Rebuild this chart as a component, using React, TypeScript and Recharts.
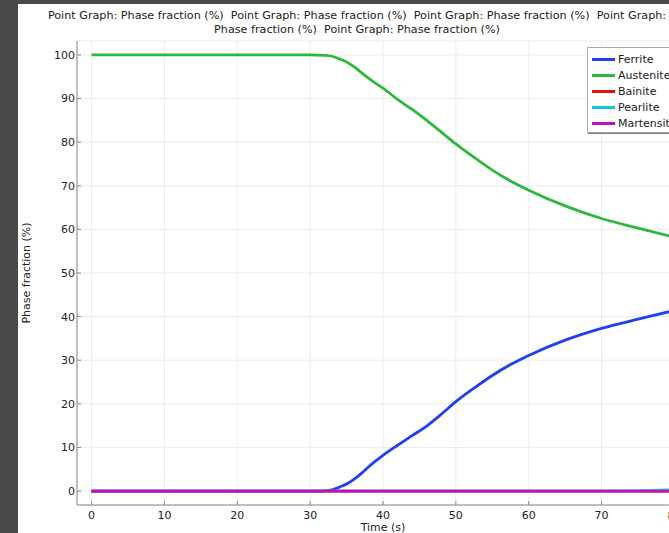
import React from 'react';
import { LineChart, Line, XAxis, YAxis, CartesianGrid, Legend } from 'recharts';

const FONT = '"DejaVu Sans", Verdana, sans-serif';

const time = [0, 10, 20, 30, 32, 33, 34, 35, 36, 37, 38, 39, 40, 42, 44, 46, 48, 50, 52.5, 55, 57.5, 60, 65, 70, 75, 80];
const ferrite = [0, 0, 0, 0, 0.05, 0.3, 0.9, 1.6, 2.7, 4.0, 5.5, 6.9, 8.2, 10.5, 12.7, 14.9, 17.6, 20.5, 23.6, 26.5, 29.0, 31.1, 34.6, 37.3, 39.4, 41.4];
const austenite = [100, 100, 100, 100, 99.9, 99.7, 99.1, 98.4, 97.3, 96.0, 94.7, 93.5, 92.4, 89.8, 87.5, 85.0, 82.3, 79.6, 76.5, 73.6, 71.1, 69.0, 65.4, 62.5, 60.3, 58.2];
const bainite = [0, 0, 0, 0, 0, 0, 0, 0, 0, 0, 0, 0, 0, 0, 0, 0, 0, 0, 0, 0, 0, 0, 0, 0, 0, 0];
const pearlite = [0, 0, 0, 0, 0, 0, 0, 0, 0, 0, 0, 0, 0, 0, 0, 0, 0, 0, 0, 0, 0, 0, 0, 0, 0.05, 0.3];
const martensite = [0, 0, 0, 0, 0, 0, 0, 0, 0, 0, 0, 0, 0, 0, 0, 0, 0, 0, 0, 0, 0, 0, 0, 0, 0, 0];

const seriesNames = ['Ferrite', 'Austenite', 'Bainite', 'Pearlite', 'Martensite'];
const seriesColors = ['#1f3ff0', '#2db83d', '#e01010', '#10c8d0', '#c010c0'];
const seriesValues = [ferrite, austenite, bainite, pearlite, martensite];

const xTicks = [0, 10, 20, 30, 40, 50, 60, 70, 80];
const yTicks = [0, 10, 20, 30, 40, 50, 60, 70, 80, 90, 100];

const titleLines = [
  'Point Graph: Phase fraction (%)  Point Graph: Phase fraction (%)  Point Graph: Phase fraction (%)  Point Graph:',
  'Phase fraction (%)  Point Graph: Phase fraction (%)',
];
const xLabel = 'Time (s)';
const yLabel = 'Phase fraction (%)';

const data = time.map((t, i) => {
  const row: Record<string, number> = { t };
  seriesNames.forEach((n, k) => {
    row[n] = seriesValues[k][i];
  });
  return row;
});

const axisColor = '#8a8a8a';
const tickStyle = { fontSize: 11, fill: '#222', fontFamily: FONT };

const EmptyTick = () => <g />;

const LegendBox = (props: any) => {
  const payload = [...(props.payload || [])].sort(
    (a: any, b: any) => seriesNames.indexOf(a.value) - seriesNames.indexOf(b.value)
  );
  return (
    <div
      style={{
        background: '#fff',
        border: '1px solid #a8a8a8',
        boxShadow: '1px 1px 0 #7a7a7a',
        padding: '3px 4px 1px 4px',
        fontFamily: FONT,
        fontSize: 11,
        color: '#222',
        whiteSpace: 'nowrap',
      }}
    >
      {payload.map((p: any) => (
        <div key={p.value} style={{ display: 'flex', alignItems: 'center', height: 16 }}>
          <span style={{ display: 'inline-block', width: 23, height: 3, background: p.color, marginRight: 3 }} />
          <span>{p.value}</span>
        </div>
      ))}
    </div>
  );
};

const YLabel = (props: any) => {
  const vb = props.viewBox || { x: 0, y: 0, width: 0, height: 0 };
  const cx = 12;
  const cy = vb.y + vb.height / 2;
  return (
    <text
      x={cx}
      y={cy}
      transform={`rotate(-90, ${cx}, ${cy})`}
      textAnchor="middle"
      fontSize={11}
      fontFamily={FONT}
      fill="#222"
    >
      {yLabel}
    </text>
  );
};

export default function App() {
  return (
    <div
      style={{
        position: 'fixed',
        left: 0,
        top: 0,
        width: 669,
        height: 533,
        overflow: 'hidden',
        background: '#47494b',
      }}
    >
      <div style={{ position: 'absolute', left: 18, top: 4, width: 678, height: 529, background: '#fff' }}>
        <LineChart
          width={678}
          height={529}
          data={data}
          margin={{ top: 37, right: 7, bottom: 0, left: 0 }}
          style={{ position: 'absolute', left: 0, top: 0 }}
        >
          <CartesianGrid stroke="#ebebeb" strokeWidth={1} />
          <XAxis
            dataKey="t"
            type="number"
            domain={[-2, 82]}
            ticks={xTicks}
            height={28}
            tickSize={-4}
            tickMargin={10}
            tick={tickStyle}
            axisLine={{ stroke: axisColor }}
            tickLine={{ stroke: axisColor }}
            label={{ value: xLabel, position: 'insideBottom', offset: 2, fontSize: 11, fontFamily: FONT, fill: '#222' }}
          />
          <XAxis
            xAxisId="top"
            orientation="top"
            dataKey="t"
            type="number"
            domain={[-2, 82]}
            ticks={xTicks}
            height={0}
            tickSize={-4}
            tick={EmptyTick}
            axisLine={{ stroke: axisColor }}
            tickLine={{ stroke: axisColor }}
          />
          <YAxis
            type="number"
            domain={[-3.2, 103.2]}
            ticks={yTicks}
            width={59}
            tickSize={-4}
            tickMargin={6}
            tick={tickStyle}
            axisLine={{ stroke: axisColor }}
            tickLine={{ stroke: axisColor }}
            label={<YLabel />}
          />
          <Legend
            layout="vertical"
            align="center"
            verticalAlign="middle"
            content={<LegendBox />}
            wrapperStyle={{ left: 569, top: 43, width: 'auto', height: 'auto' }}
          />
          {seriesNames.map((n, k) => (
            <Line
              key={n}
              dataKey={n}
              name={n}
              type="monotone"
              stroke={seriesColors[k]}
              strokeWidth={2.8}
              dot={false}
              activeDot={false}
              isAnimationActive={false}
            />
          ))}
        </LineChart>
        <div
          style={{
            position: 'absolute',
            left: 0,
            top: 5,
            width: 678,
            textAlign: 'center',
            fontFamily: FONT,
            fontSize: 11.2,
            lineHeight: '14px',
            color: '#222',
            whiteSpace: 'pre',
          }}
        >
          {titleLines.map((l) => (
            <div key={l}>{l}</div>
          ))}
        </div>
      </div>
    </div>
  );
}
